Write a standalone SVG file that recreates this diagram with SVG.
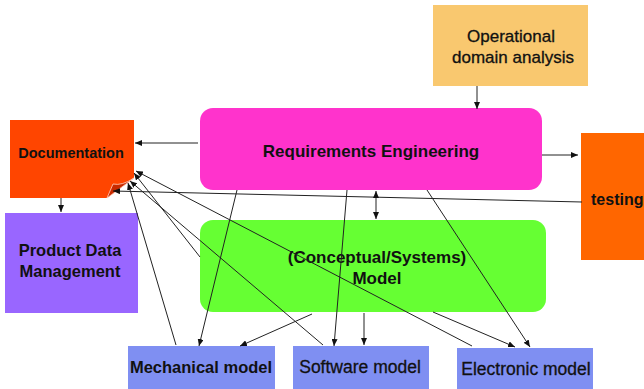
<svg xmlns="http://www.w3.org/2000/svg" width="644" height="389" viewBox="0 0 644 389">
<defs>
<marker id="ah" markerWidth="7" markerHeight="6" refX="7" refY="3" orient="auto-start-reverse" markerUnits="userSpaceOnUse">
<path d="M0,0 L7,3 L0,6 z" fill="#111"/>
</marker>
<style>
.t{font-family:"Liberation Sans",Arial,sans-serif;fill:#111;text-anchor:middle}
.b{font-weight:bold}
.r{stroke:#111;stroke-width:0.3}
.c line{stroke:#222;stroke-width:1}
.a{marker-end:url(#ah)}
</style>
</defs>
<rect width="644" height="389" fill="#fff"/>

<g id="operational">
<rect x="433" y="5" width="155" height="81" fill="#F9C86F"/>
<text class="t r" x="511" y="42" font-size="17">Operational</text>
<text class="t r" x="513" y="63" font-size="17">domain analysis</text>
</g>

<g id="requirements">
<rect x="200" y="108" width="342" height="82" rx="13" fill="#FF33CC"/>
<text class="t b" x="371" y="157" font-size="17">Requirements Engineering</text>
</g>

<g id="documentation">
<path d="M10,120 H134 V178 L107,198 H10 Z" fill="#FF4500"/>
<path d="M107,198 L113,184 Q122,186 134,178 Z" fill="#C82A00" stroke="#FFD0C0" stroke-width="0.8"/>
<text class="t b" x="71" y="158" font-size="14.5">Documentation</text>
</g>

<g id="pdm">
<rect x="5" y="213" width="133" height="100" fill="#9966FF"/>
<text class="t b" x="70" y="256" font-size="16.5">Product Data</text>
<text class="t b" x="70" y="277" font-size="16.5">Management</text>
</g>

<g id="testing">
<rect x="581" y="133" width="63" height="127" fill="#FF6600"/>
<text class="t b" x="591" y="205" font-size="16" style="text-anchor:start">testing</text>
</g>

<g id="model">
<rect x="200" y="220" width="346" height="92" rx="13" fill="#66FF33"/>
<text class="t b" x="377" y="263" font-size="17">(Conceptual/Systems)</text>
<text class="t b" x="377" y="284" font-size="17">Model</text>
</g>

<g id="mechanical">
<rect x="128" y="346" width="147" height="43" fill="#7F8FF2"/>
<text class="t b" x="201" y="373" font-size="16.5">Mechanical model</text>
</g>

<g id="software">
<rect x="293" y="346" width="136" height="43" fill="#7F8FF2"/>
<text class="t r" x="360" y="373" font-size="17.5">Software model</text>
</g>

<g id="electronic">
<rect x="457" y="348" width="136" height="41" fill="#7F8FF2"/>
<text class="t r" x="526" y="375" font-size="17.5">Electronic model</text>
</g>

<g id="connectors" class="c">
<line class="a" x1="477" y1="86" x2="477" y2="109"/>
<line class="a" x1="198" y1="143" x2="135" y2="143"/>
<line class="a" x1="542" y1="155" x2="578" y2="155"/>
<line class="a" x1="61" y1="198" x2="61" y2="212"/>
<line class="a" x1="582" y1="202" x2="113" y2="191"/>
<line class="a" x1="376" y1="191" x2="376" y2="219" marker-start="url(#ah)"/>
<line class="a" x1="472" y1="346" x2="136" y2="171"/>
<line class="a" x1="200" y1="257" x2="134" y2="173"/>
<line class="a" x1="323" y1="345" x2="130" y2="181"/>
<line class="a" x1="176" y1="345" x2="128" y2="183"/>
<line class="a" x1="237" y1="190" x2="199" y2="346"/>
<line class="a" x1="347" y1="190" x2="334" y2="346"/>
<line class="a" x1="427" y1="190" x2="530" y2="347"/>
<line class="a" x1="312" y1="314" x2="240" y2="346"/>
<line class="a" x1="364" y1="313" x2="364" y2="345"/>
<line class="a" x1="433" y1="312" x2="515" y2="347"/>
</g>
</svg>
